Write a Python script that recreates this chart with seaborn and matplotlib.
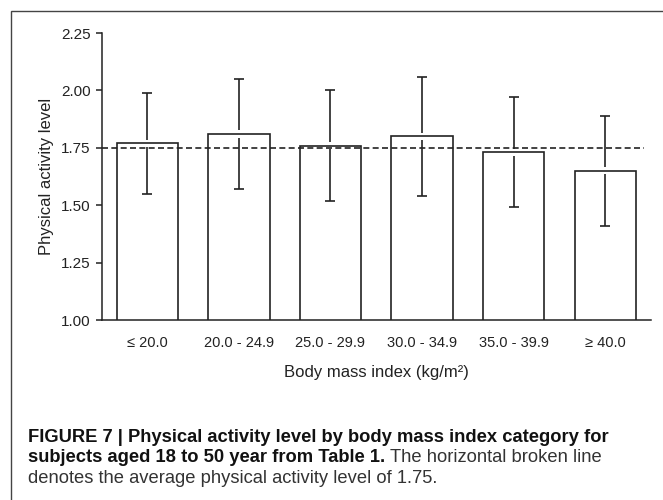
import matplotlib
matplotlib.use("Agg")
import matplotlib.pyplot as plt
from matplotlib.patches import Rectangle
import seaborn as sns
import numpy as np

# Data.
categories = ["≤ 20.0", "20.0 - 24.9", "25.0 - 29.9", "30.0 - 34.9", "35.0 - 39.9", "≥ 40.0"]
pal_mean = [1.77, 1.81, 1.76, 1.80, 1.73, 1.65]
pal_sd = [0.22, 0.24, 0.24, 0.26, 0.24, 0.24]
average_pal = 1.75
y_ticks = [1.00, 1.25, 1.50, 1.75, 2.00, 2.25]

sns.set_theme(style="ticks")
plt.rcParams["font.family"] = ["Liberation Sans", "DejaVu Sans"]

ink = "#222222"
fig = plt.figure(figsize=(6.63, 5.0), dpi=100)
ax = fig.add_axes([101.5 / 663, 1 - 320 / 500, (651 - 101.5) / 663, (320 - 33) / 500])

sns.barplot(x=categories, y=pal_mean, color="white", edgecolor=ink,
            linewidth=1.2, width=0.67, ax=ax)

# Error bars (SD): the stem is broken just around the bar top, as in the original.
xpos = np.arange(len(categories))
mean = np.array(pal_mean)
sd = np.array(pal_sd)
gap = 0.016
ax.vlines(xpos, mean + gap, mean + sd, color=ink, linewidth=1.2, zorder=5)
ax.vlines(xpos, mean - sd, mean - gap, color=ink, linewidth=1.2, zorder=5)
ax.errorbar(xpos, mean, yerr=sd, fmt="none", ecolor=ink, elinewidth=0,
            capsize=3.6, capthick=1.2, zorder=5)

# Average physical activity level (broken line).
ax.hlines(average_pal, -0.5, 5.42, color=ink, linestyle=(0, (3.6, 2.0)), linewidth=1.2, zorder=6)

ax.set_ylim(1.0, 2.25)
ax.set_xlim(-0.5, 5.5)
ax.set_yticks(y_ticks)
ax.set_yticklabels([f"{t:.2f}" for t in y_ticks])
sns.despine(ax=ax)
for side in ["left", "bottom"]:
    ax.spines[side].set_color(ink)
    ax.spines[side].set_linewidth(1.1)
ax.tick_params(axis="y", length=4.5, width=1.1, color=ink, labelsize=11, labelcolor=ink, pad=3.5)
ax.tick_params(axis="x", length=0, labelsize=10.5, labelcolor=ink, pad=11.5)

ax.set_ylabel("Physical activity level", fontsize=12, color=ink, labelpad=5)
ax.set_xlabel("Body mass index (kg/m²)", fontsize=12, color=ink, labelpad=11)

# Figure frame like the journal layout.
fig.patches.append(Rectangle((11 / 663, -0.1), 1.0, 1.1 - 11 / 500, transform=fig.transFigure,
                             fill=False, edgecolor="#444444", linewidth=1.0))

# Caption.
cap_x = 28 / 663
cap_size = 13.2
fig.text(cap_x, 1 - 442 / 500, "FIGURE 7 | Physical activity level by body mass index category for",
         fontsize=cap_size, fontweight="bold", va="baseline", color="#111111")
t = fig.text(cap_x, 1 - 462 / 500, "subjects aged 18 to 50 year from Table 1.",
             fontsize=cap_size, fontweight="bold", va="baseline", color="#111111")
fig.canvas.draw()
bb = t.get_window_extent()
fig.text(bb.x1 / fig.bbox.width + 0.007, 1 - 462 / 500, "The horizontal broken line",
         fontsize=cap_size, va="baseline", color="#333333")
fig.text(cap_x, 1 - 483 / 500, "denotes the average physical activity level of 1.75.",
         fontsize=cap_size, va="baseline", color="#333333")

fig.savefig("out.png", dpi=100)
